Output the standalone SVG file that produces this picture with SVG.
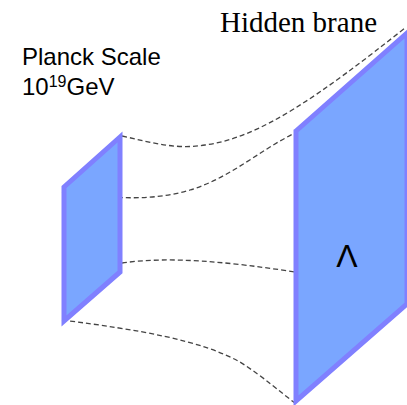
<svg xmlns="http://www.w3.org/2000/svg" width="407" height="405" viewBox="0 0 407 405">
<style>
.brane{fill:#7aa6ff;stroke:#8080ff;stroke-width:5;stroke-linejoin:miter}
.dash{fill:none;stroke:#444;stroke-width:1.3;stroke-dasharray:5 3}
.sans{font-family:"Liberation Sans",Arial,sans-serif;fill:#000}
.serif{font-family:"Liberation Serif","Times New Roman",serif;fill:#000}
</style>
<rect width="407" height="405" fill="#fff"/>
<g id="connectors">
<path class="dash" d="M122,136 C150,142 175,150 205,145 C260,138 320,95 405,28"/>
<path class="dash" d="M62,192 C110,198 150,202 190,190 C230,178 260,150 295,133"/>
<path class="dash" d="M122,263 C170,256 230,262 295,272"/>
<path class="dash" d="M62,320 C140,330 200,340 240,362 C265,378 280,392 295,403"/>
</g>
<g id="small-brane">
<polygon class="brane" points="120,137 64,187 64,321 120,272"/>
</g>
<g id="hidden-brane">
<polygon class="brane" points="296,131 407,33 407,304 296,401"/>
<text class="sans" x="347" y="267" font-size="32" text-anchor="middle">Λ</text>
</g>
<g id="labels">
<text class="sans" x="22" y="65" font-size="24">Planck Scale</text>
<text class="sans" x="22" y="95" font-size="24">10<tspan font-size="16" dy="-8">19</tspan><tspan dy="8">GeV</tspan></text>
<text class="serif" x="220" y="32" font-size="29">Hidden brane</text>
</g>
</svg>
